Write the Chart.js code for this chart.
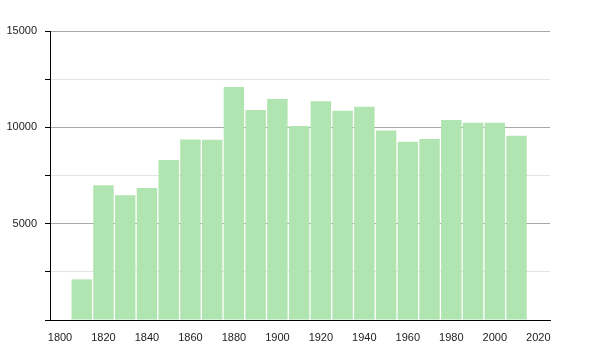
<!DOCTYPE html>
<html>
<head>
<meta charset="utf-8">
<script src="https://cdn.jsdelivr.net/npm/chart.js@4/dist/chart.umd.min.js"></script>
<style>
  html, body { margin: 0; padding: 0; background: #fff; }
  #wrap { width: 600px; height: 350px; }
</style>
</head>
<body>
<div id="wrap"><canvas id="myChart"></canvas></div>
<script>
const years = [1810, 1820, 1830, 1840, 1850, 1860, 1870, 1880, 1890, 1900, 1910,
    1920, 1930, 1940, 1950, 1960, 1970, 1980, 1990, 2000, 2010];
const population = [2110, 6990, 6470, 6850, 8300, 9370, 9360, 12090, 10900, 11470, 10070,
    11350, 10860, 11070, 9830, 9250, 9390, 10380, 10240, 10240, 9560];
const yTicks = [5000, 10000, 15000];

const data = {
    datasets: [{
        label: 'Population',
        data: years.map((y, i) => ({ x: y, y: population[i] })),
        backgroundColor: 'rgb(176,228,176)',
        borderWidth: 0,
        barPercentage: 0.94,
        categoryPercentage: 1
    }]
};

const config = {
    type: 'bar',
    data: data,
    options: {
        responsive: true,
        maintainAspectRatio: false,
        animation: false,
        layout: {
            padding: { left: 0, right: 50, top: 31, bottom: 0 }
        },
        plugins: {
            legend: { display: false },
            tooltip: { enabled: false }
        },
        scales: {
            x: {
                type: 'linear',
                offset: false,
                min: 1795.4,
                max: 2025.4,
                afterFit: (s) => { s.height = 30; },
                grid: { display: false, offset: false },
                border: { display: true, color: '#000', width: 1 },
                ticks: {
                    stepSize: 20,
                    includeBounds: false,
                    maxRotation: 0,
                    padding: 3,
                    color: '#222',
                    font: { family: 'Liberation Sans', size: 11 },
                    callback: (v) => String(v)
                }
            },
            y: {
                min: 0,
                max: 15000,
                afterFit: (s) => { s.width = 50; },
                border: { display: true, color: '#000', width: 1 },
                grid: {
                    color: (ctx) => yTicks.includes(ctx.tick.value) ? '#a8a8a8' : '#e4e4e4',
                    tickColor: '#000',
                    tickLength: 5
                },
                ticks: {
                    stepSize: 2500,
                    padding: 8,
                    color: '#222',
                    font: { family: 'Liberation Sans', size: 11 },
                    callback: (v) => yTicks.includes(v) ? String(v) : ''
                }
            }
        }
    }
};

new Chart(document.getElementById('myChart'), config);
</script>
</body>
</html>
